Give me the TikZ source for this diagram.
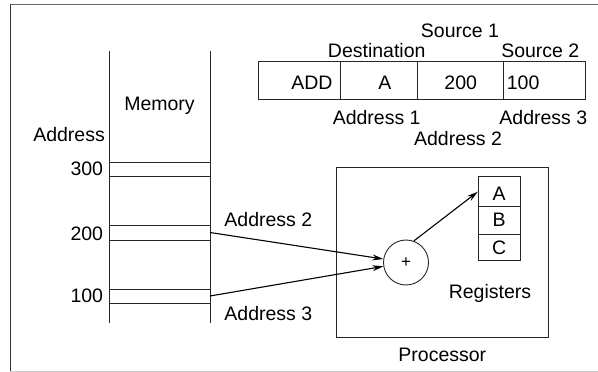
\documentclass[tikz,border=0pt]{standalone}
\usepackage{fontspec}
\setmainfont{Liberation Sans}
\usetikzlibrary{arrows.meta}
\begin{document}
\begin{tikzpicture}[x=1pt,y=-1pt,
  txt/.style={inner sep=0pt,anchor=base,font=\fontsize{19.5}{23}\selectfont},
  ln/.style={draw=black!85,line width=0.9pt},
  cell/.style={ln,rectangle,inner sep=0pt},
  arr/.style={draw=black,line width=1.1pt,-{Stealth[length=11pt,width=6pt]}}]
\useasboundingbox (0,0) rectangle (598,372);
% frame
\draw[black!60,line width=1pt] (10.3,4.3) -- (598,4.3);
\draw[black!80,line width=0.9pt] (10.3,4.3) -- (10.3,371.5);
\draw[black!20,line width=1pt] (10.3,371.3) -- (598,371.3);
% memory
\draw[ln] (109,51) -- (109,323);
\draw[ln] (210,51) -- (210,323);
\foreach \yy in {162,176,225.7,240,289,303.3}
  \draw[ln] (109,\yy) -- (210,\yy);
\coordinate (m200) at (210,232.5);
\coordinate (m100) at (210,296);
\node[txt] (memlbl) at (159.5,110) {Memory};
\node[txt,anchor=base east] (addrlbl) at (105,141.7) {Address};
\node[txt,anchor=base east] (a300) at (103.3,175) {300};
\node[txt,anchor=base east] (a200) at (103.3,240) {200};
\node[txt,anchor=base east] (a100) at (103.3,302.3) {100};
\node[txt] (ad2) at (268.3,226) {Address 2};
\node[txt] (ad3) at (268.3,320) {Address 3};
% instruction
\node[cell,minimum width=82.7pt,minimum height=37.3pt] (iadd) at (299.35,80.35) {};
\node[cell,minimum width=77pt,minimum height=37.3pt] (ia) at (379.2,80.35) {};
\node[cell,minimum width=85.6pt,minimum height=37.3pt] (i200) at (460.5,80.35) {};
\node[cell,minimum width=81.7pt,minimum height=37.3pt] (i100) at (544.15,80.35) {};
\node[txt,anchor=base east] (tadd) at (332.7,89.3) {ADD};
\node[txt] (ta) at (385,89.3) {A};
\node[txt] (t200) at (460.7,89.3) {200};
\node[txt,anchor=base west] (t100) at (506.7,89.3) {100};
\node[txt] (src1) at (460,37.3) {Source 1};
\node[txt] (dst) at (376.7,57.3) {Destination};
\node[txt] (src2) at (540.3,57.3) {Source 2};
\node[txt] (iad1) at (376.7,124) {Address 1};
\node[txt] (iad3) at (543.3,124) {Address 3};
\node[txt] (iad2) at (458,145.7) {Address 2};
% processor
\node[cell,minimum width=212.3pt,minimum height=170.7pt] (proc) at (442.15,252.35) {};
\node[txt] (proclbl) at (442.3,361.7) {Processor};
\node[cell,minimum width=41.7pt,minimum height=30pt] (rA) at (499.15,191.7) {};
\node[cell,minimum width=41.7pt,minimum height=27.3pt] (rB) at (499.15,220.35) {};
\node[cell,minimum width=41.7pt,minimum height=26.7pt] (rC) at (499.15,247.35) {};
\node[txt] (tA) at (499.2,200) {A};
\node[txt] (tB) at (499.2,226.7) {B};
\node[txt] (tC) at (499.2,254) {C};
\node[txt] (reglbl) at (490,298.3) {Registers};
\node[draw=black!85,line width=0.9pt,circle,minimum size=45pt,inner sep=0pt,font=\fontsize{17}{19}\selectfont] (plus) at (406,262.5) {+};
% arrows
\draw[arr] (m200) -- (plus);
\draw[arr] (m100) -- (plus);
\draw[arr] (plus.70) -- (rA.west);
\end{tikzpicture}
\end{document}
